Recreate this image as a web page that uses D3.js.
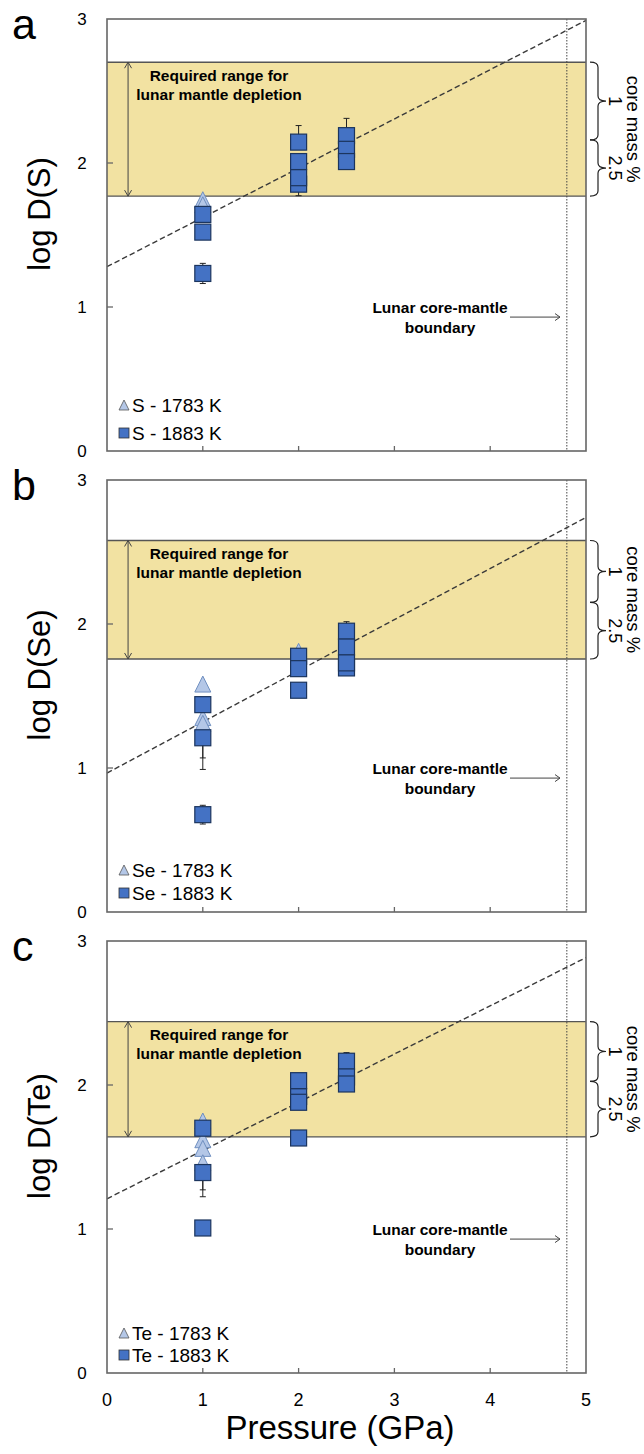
<!DOCTYPE html>
<html><head><meta charset="utf-8">
<script src="https://cdn.jsdelivr.net/npm/d3@7"></script>
<style>body{margin:0;background:#fff}svg{display:block}text{font-family:"Liberation Sans",Arial,sans-serif;fill:#000}</style>
</head><body>
<script>
// ---------- data ----------
const panelLetters = ["a","b","c"];
const yTitles = ["log D(S)","log D(Se)","log D(Te)"];
const seriesLow = ["S - 1783 K","Se - 1783 K","Te - 1783 K"];
const seriesHigh = ["S - 1883 K","Se - 1883 K","Te - 1883 K"];
const xTicks = [0,1,2,3,4,5];
const yTicks = [0,1,2,3];

// required range band (log D) and core mass % split
const bandTop = [2.70, 2.58, 2.44];
const bandBottom = [1.77, 1.757, 1.64];
const braceMid = [2.16, 2.15, 2.025];
const braceLabels = ["1","2.5"];

// linear fit (dashed)
const fitIntercept = [1.28, 0.965, 1.21];
const fitSlope = [0.342, 0.355, 0.335];
const cmbPressure = 4.8;

// S
const S_1783_P = [1, 1];
const S_1783_logD = [1.745, 1.71];
const S_1783_errLo = [0, 0];
const S_1783_errHi = [0, 0];
const S_1883_P = [1, 1, 1, 2, 2, 2, 2, 2.5, 2.5, 2.5];
const S_1883_logD = [1.643, 1.52, 1.233, 2.145, 1.853, 2.01, 1.898, 2.19, 2.095, 2.01];
const S_1883_errLo = [0, 0, 0.07, 0, 0.08, 0, 0, 0, 0, 0];
const S_1883_errHi = [0, 0, 0.07, 0.115, 0, 0, 0, 0.12, 0, 0];

// Se
const Se_1783_P = [1, 1, 1, 2];
const Se_1783_logD = [1.583, 1.35, 1.31, 1.81];
const Se_1783_errLo = [0, 0, 0.32, 0];
const Se_1783_errHi = [0, 0, 0, 0];
const Se_1883_P = [1, 1, 1, 2, 2, 2, 2.5, 2.5, 2.5, 2.5];
const Se_1883_logD = [1.44, 1.21, 0.676, 1.776, 1.69, 1.54, 1.95, 1.84, 1.695, 1.73];
const Se_1883_errLo = [0, 0.14, 0.065, 0, 0, 0, 0, 0, 0, 0];
const Se_1883_errHi = [0, 0, 0.065, 0, 0, 0, 0.066, 0, 0, 0];

// Te
const Te_1783_P = [1, 1, 1, 1];
const Te_1783_logD = [1.75, 1.62, 1.56, 1.46];
const Te_1783_errLo = [0, 0, 0, 0.236];
const Te_1783_errHi = [0, 0, 0, 0];
const Te_1883_P = [1, 1, 1, 2, 2, 2, 2, 2.5, 2.5, 2.5];
const Te_1883_logD = [1.70, 1.392, 1.007, 1.92, 2.03, 1.88, 1.632, 2.165, 2.056, 2.007];
const Te_1883_errLo = [0, 0.12, 0, 0, 0, 0, 0, 0, 0, 0];
const Te_1883_errHi = [0, 0, 0, 0, 0, 0, 0, 0.06, 0, 0];

const lowSets = [
  [S_1783_P, S_1783_logD, S_1783_errLo, S_1783_errHi],
  [Se_1783_P, Se_1783_logD, Se_1783_errLo, Se_1783_errHi],
  [Te_1783_P, Te_1783_logD, Te_1783_errLo, Te_1783_errHi]];
const highSets = [
  [S_1883_P, S_1883_logD, S_1883_errLo, S_1883_errHi],
  [Se_1883_P, Se_1883_logD, Se_1883_errLo, Se_1883_errHi],
  [Te_1883_P, Te_1883_logD, Te_1883_errLo, Te_1883_errHi]];

// ---------- layout ----------
const W = 644, H = 1454;
const left = 107, right = 586, panelH = 432;
const panelTops = [19, 480, 941];
const legendOffsets = [[-46, -18], [-42, -19], [-40, -18]];

const svg = d3.select("body").append("svg").attr("width", W).attr("height", H);
const x = d3.scaleLinear().domain([0, 5]).range([left, right]);

const sqFill = "#4472C4", sqStroke = "#1c355e";
const triFill = "#B4C7E7", triStroke = "#6f8fc0";
const bandFill = "#F2E2A2";
const frameCol = "#666";

function toObjs(set) {
  return set[0].map((p, i) => ({p, v: set[1][i], lo: set[2][i], hi: set[3][i]}));
}
function triPath(cx, cy, s) {
  const h = s / 2;
  return `M${cx},${cy - h}L${cx + h},${cy + h}L${cx - h},${cy + h}Z`;
}

panelTops.forEach((top, i) => {
  const y = d3.scaleLinear().domain([0, 3]).range([top + panelH, top]);
  const g = svg.append("g");

  // band
  g.append("rect").attr("x", x(0)).attr("width", x(5) - x(0))
    .attr("y", y(bandTop[i])).attr("height", y(bandBottom[i]) - y(bandTop[i]))
    .attr("fill", bandFill);
  [bandTop[i], bandBottom[i]].forEach(v => g.append("line")
    .attr("x1", x(0)).attr("x2", x(5)).attr("y1", y(v)).attr("y2", y(v))
    .attr("stroke", "#555").attr("stroke-width", 1.4));

  // CMB dotted line
  g.append("line").attr("x1", x(cmbPressure)).attr("x2", x(cmbPressure))
    .attr("y1", y(3)).attr("y2", y(0)).attr("stroke", "#444")
    .attr("stroke-width", 1).attr("stroke-dasharray", "1.5,1.5");

  // fit line
  g.append("line").attr("x1", x(0)).attr("y1", y(fitIntercept[i]))
    .attr("x2", x(5)).attr("y2", y(fitIntercept[i] + fitSlope[i] * 5))
    .attr("stroke", "#3a3a3a").attr("stroke-width", 1.4).attr("stroke-dasharray", "5.5,3");

  // double arrow
  const ax = x(0.22), y1 = y(bandTop[i]), y2 = y(bandBottom[i]);
  g.append("path").attr("d",
    `M${ax},${y1}L${ax},${y2}M${ax - 3.5},${y1 + 6}L${ax},${y1}L${ax + 3.5},${y1 + 6}M${ax - 3.5},${y2 - 6}L${ax},${y2}L${ax + 3.5},${y2 - 6}`)
    .attr("fill", "none").attr("stroke", "#444").attr("stroke-width", 1);

  // annotation text
  const tx = 219;
  g.append("text").attr("x", tx).attr("y", y(bandTop[i]) + 13).attr("text-anchor", "middle")
    .attr("dominant-baseline", "central").attr("font-size", 15.5).attr("font-weight", "bold")
    .text("Required range for");
  g.append("text").attr("x", tx).attr("y", y(bandTop[i]) + 32).attr("text-anchor", "middle")
    .attr("dominant-baseline", "central").attr("font-size", 15.5).attr("font-weight", "bold")
    .text("lunar mantle depletion");

  g.append("text").attr("x", 440).attr("y", y(0.995)).attr("text-anchor", "middle")
    .attr("dominant-baseline", "central").attr("font-size", 15.5).attr("font-weight", "bold")
    .text("Lunar core-mantle");
  g.append("text").attr("x", 440).attr("y", y(0.86)).attr("text-anchor", "middle")
    .attr("dominant-baseline", "central").attr("font-size", 15.5).attr("font-weight", "bold")
    .text("boundary");
  const ay = y(0.93);
  g.append("path").attr("d", `M510,${ay}L560,${ay}M555,${ay - 3.5}L560,${ay}L555,${ay + 3.5}`)
    .attr("fill", "none").attr("stroke", "#444").attr("stroke-width", 1);

  // data: error bars then markers
  const lowD = toObjs(lowSets[i]), highD = toObjs(highSets[i]);
  function errBars(data) {
    data.forEach(d => {
      if (!d.lo && !d.hi) return;
      const cx = x(d.p);
      g.append("line").attr("x1", cx).attr("x2", cx).attr("y1", y(d.v - d.lo)).attr("y2", y(d.v + d.hi))
        .attr("stroke", "#222").attr("stroke-width", 1);
      if (d.lo) g.append("line").attr("x1", cx - 3).attr("x2", cx + 3).attr("y1", y(d.v - d.lo)).attr("y2", y(d.v - d.lo))
        .attr("stroke", "#222").attr("stroke-width", 1);
      if (d.hi) g.append("line").attr("x1", cx - 3).attr("x2", cx + 3).attr("y1", y(d.v + d.hi)).attr("y2", y(d.v + d.hi))
        .attr("stroke", "#222").attr("stroke-width", 1);
    });
  }
  errBars(lowD);
  lowD.forEach(d => g.append("path").attr("d", triPath(x(d.p), y(d.v), 16))
    .attr("fill", triFill).attr("stroke", triStroke).attr("stroke-width", 1));
  errBars(highD);
  highD.forEach(d => g.append("rect").attr("x", x(d.p) - 8).attr("y", y(d.v) - 8)
    .attr("width", 16).attr("height", 16).attr("fill", sqFill)
    .attr("stroke", sqStroke).attr("stroke-width", 1.2));

  // frame
  g.append("rect").attr("x", x(0)).attr("y", y(3)).attr("width", x(5) - x(0)).attr("height", y(0) - y(3))
    .attr("fill", "none").attr("stroke", frameCol).attr("stroke-width", 1.6);
  // inward ticks
  xTicks.filter(t => t > 0 && t < 5).forEach(t => g.append("line")
    .attr("x1", x(t)).attr("x2", x(t)).attr("y1", y(0)).attr("y2", y(0) - 5)
    .attr("stroke", frameCol).attr("stroke-width", 1.3));
  yTicks.filter(t => t > 0 && t < 3).forEach(t => g.append("line")
    .attr("x1", x(0)).attr("x2", x(0) + 6).attr("y1", y(t)).attr("y2", y(t))
    .attr("stroke", frameCol).attr("stroke-width", 1.3));
  // y tick labels
  yTicks.forEach(t => g.append("text").attr("x", 82).attr("y", y(t)).attr("text-anchor", "middle")
    .attr("dominant-baseline", "central").attr("font-size", 17).text(t));

  // y title
  g.append("text").attr("transform", `translate(50,${top + 195}) rotate(-90)`)
    .attr("text-anchor", "middle").attr("font-size", 31).text(yTitles[i]);
  // panel letter
  g.append("text").attr("x", 12).attr("y", top + 20).attr("font-size", 43).text(panelLetters[i]);

  // legend
  const lo = legendOffsets[i];
  const ly1 = y(0) + lo[0], ly2 = y(0) + lo[1];
  g.append("path").attr("d", triPath(124, ly1, 10)).attr("fill", triFill).attr("stroke", "#555").attr("stroke-width", 0.8);
  g.append("text").attr("x", 132).attr("y", ly1).attr("dominant-baseline", "central").attr("font-size", 19).text(seriesLow[i]);
  g.append("rect").attr("x", 119).attr("y", ly2 - 5).attr("width", 10).attr("height", 10)
    .attr("fill", sqFill).attr("stroke", "#333").attr("stroke-width", 0.8);
  g.append("text").attr("x", 132).attr("y", ly2).attr("dominant-baseline", "central").attr("font-size", 19).text(seriesHigh[i]);

  // braces
  const xL = 590, xV = 598, xT = 606, r = 5;
  function brace(ya, yb) {
    const ym = (ya + yb) / 2;
    return `M${xL},${ya}Q${xV},${ya} ${xV},${ya + r}L${xV},${ym - r}Q${xV},${ym} ${xT},${ym}Q${xV},${ym} ${xV},${ym + r}L${xV},${yb - r}Q${xV},${yb} ${xL},${yb}`;
  }
  const bt = y(bandTop[i]), bm = y(braceMid[i]), bb = y(bandBottom[i]);
  g.append("path").attr("d", brace(bt, bm)).attr("fill", "none").attr("stroke", "#222").attr("stroke-width", 1.2);
  g.append("path").attr("d", brace(bm, bb)).attr("fill", "none").attr("stroke", "#222").attr("stroke-width", 1.2);
  [[braceLabels[0], (bt + bm) / 2], [braceLabels[1], (bm + bb) / 2]].forEach(([t, yy]) =>
    g.append("text").attr("transform", `translate(615,${yy}) rotate(90)`).attr("text-anchor", "middle")
      .attr("dominant-baseline", "central").attr("font-size", 18).text(t));
  g.append("text").attr("transform", `translate(633,${(bt + bb) / 2}) rotate(90)`).attr("text-anchor", "middle")
    .attr("dominant-baseline", "central").attr("font-size", 18.5).text("core mass %");

  // x tick labels (bottom panel only)
  if (i === 2) {
    xTicks.forEach(t => g.append("text").attr("x", x(t)).attr("y", 1400).attr("text-anchor", "middle")
      .attr("dominant-baseline", "central").attr("font-size", 18).text(t));
    g.append("text").attr("x", 340).attr("y", 1439).attr("text-anchor", "middle")
      .attr("font-size", 33).text("Pressure (GPa)");
  }
});
</script>
</body></html>
